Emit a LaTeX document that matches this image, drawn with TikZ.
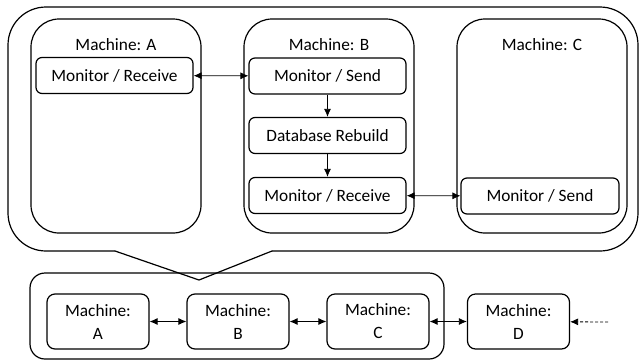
\documentclass[tikz,border=0pt]{standalone}
\usepackage{fontspec}
\setmainfont{Carlito}
\usepackage{tikz}
\usetikzlibrary{arrows.meta}

\tikzset{
  machine/.style={draw, line width=1.2pt, rounded corners=28pt, minimum width=170pt, minimum height=214pt},
  task/.style={draw, line width=1.2pt, rounded corners=6pt, minimum width=157pt, minimum height=36pt, inner sep=0pt},
  small/.style={draw, line width=1.2pt, rounded corners=8pt, minimum width=102pt, minimum height=55pt, inner sep=0pt, align=center},
  link/.style={line width=0.8pt, {Latex[length=8pt,width=7pt]}-{Latex[length=8pt,width=7pt]}},
  flow/.style={line width=0.8pt, -{Latex[length=8pt,width=7pt]}}
}

\begin{document}
\begin{tikzpicture}[x=1pt,y=-1pt,font=\fontsize{17.3}{23}\selectfont]
  \useasboundingbox (0,0) rectangle (640,360);
  % callout
  \draw[line width=1.2pt, rounded corners=38pt] (115,251) -- (8,251) -- (8,7) -- (638,7) -- (638,251) -- (272,251);
  \draw[line width=1.2pt, line cap=round, line join=miter] (272,251) -- (199,280) -- (115,251);

  % machines on top
  \node[machine] (mA) at (116,126) {};
  \node[machine] (mB) at (329,126) {};
  \node[machine] (mC) at (542,126) {};
  \node (mAlabel) at (116,45) {Machine: A};
  \node (mBlabel) at (329,45) {Machine: B};
  \node (mClabel) at (542,45) {Machine: C};

  \node[task] (aRecv) at (114.5,75.5) {Monitor / Receive};
  \node[task] (bSend) at (327.5,76) {Monitor / Send};
  \node[task] (bRebuild) at (327.5,135.5) {Database Rebuild};
  \node[task] (bRecv) at (327.5,195.5) {Monitor / Receive};
  \node[task, minimum width=158pt] (cSend) at (540,196) {Monitor / Send};

  \draw[link] (aRecv) -- (bSend);
  \draw[link] (bRecv) -- (cSend);
  \draw[flow] (bSend) -- (bRebuild);
  \draw[flow] (bRebuild) -- (bRecv);

  % chain below
  \node[draw, line width=1.2pt, rounded corners=15pt, minimum width=414pt, minimum height=86pt] (group) at (237,316) {};
  \node[small] (nA) at (98,321.5) {Machine:\\A};
  \node[small] (nB) at (238,321.5) {Machine:\\B};
  \node[small] (nC) at (378,321.5) {Machine:\\C};
  \node[small] (nD) at (518.5,321.5) {Machine:\\D};
  \coordinate (more) at (608,322);

  \draw[link] (nA) -- (nB);
  \draw[link] (nB) -- (nC);
  \draw[link] (nC) -- (nD);
  \draw[flow, densely dashed] (more) -- (nD);
\end{tikzpicture}
\end{document}
